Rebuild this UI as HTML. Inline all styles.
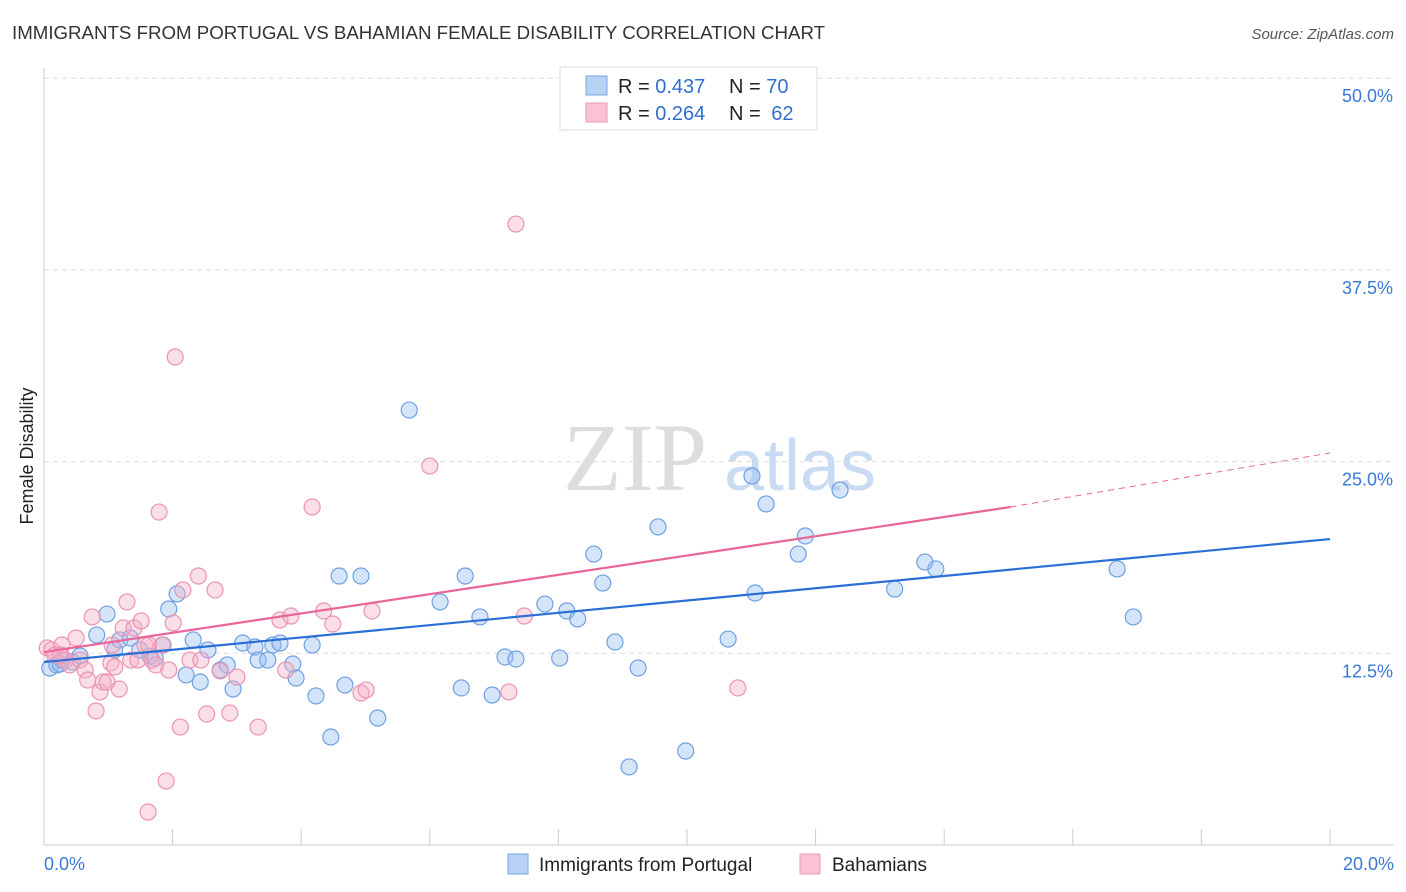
<!DOCTYPE html>
<html><head><meta charset="utf-8"><style>
body{margin:0;background:#fff;font-family:"Liberation Sans",sans-serif;}
svg{display:block}
</style></head><body>
<svg id="chart" width="1406" height="892">
<text x="12" y="39" font-size="18.7" fill="#333">IMMIGRANTS FROM PORTUGAL VS BAHAMIAN FEMALE DISABILITY CORRELATION CHART</text>
<text x="1394" y="39" font-size="15" fill="#555" font-style="italic" text-anchor="end">Source: ZipAtlas.com</text>
<text x="33" y="456" font-size="18" fill="#222" text-anchor="middle" transform="rotate(-90 33 456)">Female Disability</text>
<g><text x="635" y="490" font-size="96" fill="#ddd" font-family="Liberation Serif,serif" text-anchor="middle">ZIP</text><text x="800" y="490" font-size="72" fill="#c9dbf2" text-anchor="middle">atlas</text></g>
<g id="grid"></g><g id="marks"></g><g id="lines"></g>
<g>
<rect x="560" y="67" width="257" height="63" fill="#fff" stroke="#ddd"/>
<rect x="586" y="76" width="21" height="19" fill="#b8d2f4" stroke="#7aa6e6"/>
<rect x="586" y="103" width="21" height="19" fill="#f9c3d3" stroke="#ee9ab5"/>
<text x="618" y="93" font-size="20" fill="#222">R = <tspan fill="#2f6fd2">0.437</tspan></text>
<text x="729" y="93" font-size="20" fill="#222">N = <tspan fill="#2f6fd2">70</tspan></text>
<text x="618" y="120" font-size="20" fill="#222">R = <tspan fill="#2f6fd2">0.264</tspan></text>
<text x="729" y="120" font-size="20" fill="#222">N = <tspan fill="#2f6fd2" dx="5">62</tspan></text>
</g>
<g>
<rect x="508" y="854" width="20" height="20" fill="#b8d2f4" stroke="#7aa6e6"/>
<text x="539" y="871" font-size="19" fill="#222">Immigrants from Portugal</text>
<rect x="800" y="854" width="20" height="20" fill="#f9c3d3" stroke="#ee9ab5"/>
<text x="832" y="871" font-size="19" fill="#222">Bahamians</text>
</g>
</svg>
<script>
const yTicks=[12.5,25,37.5,50];
const yTickLabels=["12.5%","25.0%","37.5%","50.0%"];
const blueX=[.09,.20,.28,.44,.56,.82,.98,1.10,1.18,1.34,1.49,1.65,1.73,1.85,1.94,2.07,2.21,2.32,2.43,2.55,2.74,2.85,2.94,3.09,3.28,3.33,3.48,3.56,3.67,3.87,3.92,4.17,4.23,4.46,4.59,4.68,4.93,5.19,5.68,6.16,6.49,6.55,6.78,6.97,7.17,7.34,7.79,8.02,8.13,8.30,8.55,8.69,8.88,9.10,9.24,9.55,9.98,10.64,11.01,11.06,11.23,11.73,11.84,12.38,13.23,13.70,13.87,16.69,16.94,.25];
const blueY=[11.54,11.74,12.06,11.93,12.32,13.69,15.06,12.72,13.37,13.50,12.72,12.32,12.19,13.04,15.39,16.37,11.09,13.37,10.63,12.72,11.41,11.74,10.17,13.17,12.91,12.06,12.06,13.04,13.17,11.80,10.89,13.04,9.72,7.04,17.54,10.43,17.54,8.28,28.36,15.85,10.24,17.54,14.87,9.78,12.26,12.13,15.71,12.19,15.26,14.74,18.97,17.08,13.24,5.09,11.54,20.74,6.13,13.43,24.06,16.43,22.24,18.97,20.15,23.15,16.69,18.45,18.00,18.00,14.87,11.80];
const pinkX=[.05,.12,.17,.28,.33,.40,.50,.56,.64,.68,.75,.81,.87,.92,.98,1.04,1.10,1.17,1.23,1.29,1.35,1.40,1.46,1.51,1.57,1.63,1.68,1.74,1.79,1.84,1.90,1.94,2.01,2.04,2.12,2.16,2.27,2.40,2.44,2.53,2.66,2.74,2.89,3.00,3.33,3.67,3.76,3.84,4.17,4.35,4.49,4.93,5.01,5.10,6.00,7.23,7.34,7.47,10.79,1.62,1.06,.26];
const pinkY=[12.85,12.72,12.39,13.04,12.06,11.74,13.50,12.06,11.41,10.76,14.87,8.74,9.98,10.63,10.63,11.87,11.61,10.17,14.15,15.85,12.06,14.15,12.06,14.61,13.04,13.04,12.06,11.74,21.71,13.04,4.17,11.41,14.48,31.82,7.69,16.63,12.06,17.54,12.06,8.54,16.63,11.35,8.61,10.95,7.69,14.67,11.41,14.93,22.04,15.26,14.41,9.91,10.11,15.26,24.71,9.98,40.49,14.93,10.24,2.15,13.04,12.39];
const blueTrend=[[0,11.93],[20,19.95]];
const pinkTrend=[[0,12.58],[15.03,22.04],[20,25.56]];
const X=v=>44+v*64.3, Y=v=>845-v*15.336;
const NS="http://www.w3.org/2000/svg";
function mk(t,a,p){const e=document.createElementNS(NS,t);for(const k in a)e.setAttribute(k,a[k]);p.appendChild(e);return e;}
const grid=document.getElementById('grid'),marks=document.getElementById('marks'),lines=document.getElementById('lines');
yTicks.forEach((t,i)=>{
 const l=mk('line',{x1:44,x2:1394,y1:Y(t),y2:Y(t),stroke:'#ddd','stroke-dasharray':'5,4'},grid);
 
 
 const tx=mk('text',{x:1393,y:Y(t)+24,'font-size':18,fill:'#3a78d8','text-anchor':'end'},grid);
 tx.textContent=yTickLabels[i];
 
 
});
const ax=mk('line',{x1:44,x2:1394,y1:845,y2:845,stroke:'#ccc'},grid);


const ay=mk('line',{x1:44,x2:44,y1:68,y2:845,stroke:'#ccc'},grid);


for(let i=1;i<=10;i++){const t=mk('line',{x1:X(i*2),x2:X(i*2),y1:829,y2:845,stroke:'#ccc'},grid);
 
 }
[["0.0%",44,'start'],["20.0%",1394,'end']].forEach(a=>{const t=mk('text',{x:a[1],y:870,'font-size':18,fill:'#3a78d8','text-anchor':a[2]},grid);t.textContent=a[0];
 
 });
blueX.forEach((v,i)=>{const c=mk('circle',{cx:X(v),cy:Y(blueY[i]),r:8,fill:'rgba(150,190,240,0.4)',stroke:'#6f9fe2','stroke-width':1.2},marks);
 
 });
pinkX.forEach((v,i)=>{const c=mk('circle',{cx:X(v),cy:Y(pinkY[i]),r:8,fill:'rgba(246,175,198,0.4)',stroke:'#ec93b0','stroke-width':1.2},marks);
 
 });
const bl=mk('line',{x1:X(blueTrend[0][0]),y1:Y(blueTrend[0][1]),x2:X(blueTrend[1][0]),y2:Y(blueTrend[1][1]),stroke:'#2b6fd6','stroke-width':2.2},lines);


const pl=mk('line',{x1:X(pinkTrend[0][0]),y1:Y(pinkTrend[0][1]),x2:X(pinkTrend[1][0]),y2:Y(pinkTrend[1][1]),stroke:'#e8669a','stroke-width':2.2},lines);


const pd=mk('line',{x1:X(pinkTrend[1][0]),y1:Y(pinkTrend[1][1]),x2:X(pinkTrend[2][0]),y2:Y(pinkTrend[2][1]),stroke:'#e8669a','stroke-width':1,'stroke-dasharray':'6,5'},lines);


</script>
</body></html>
